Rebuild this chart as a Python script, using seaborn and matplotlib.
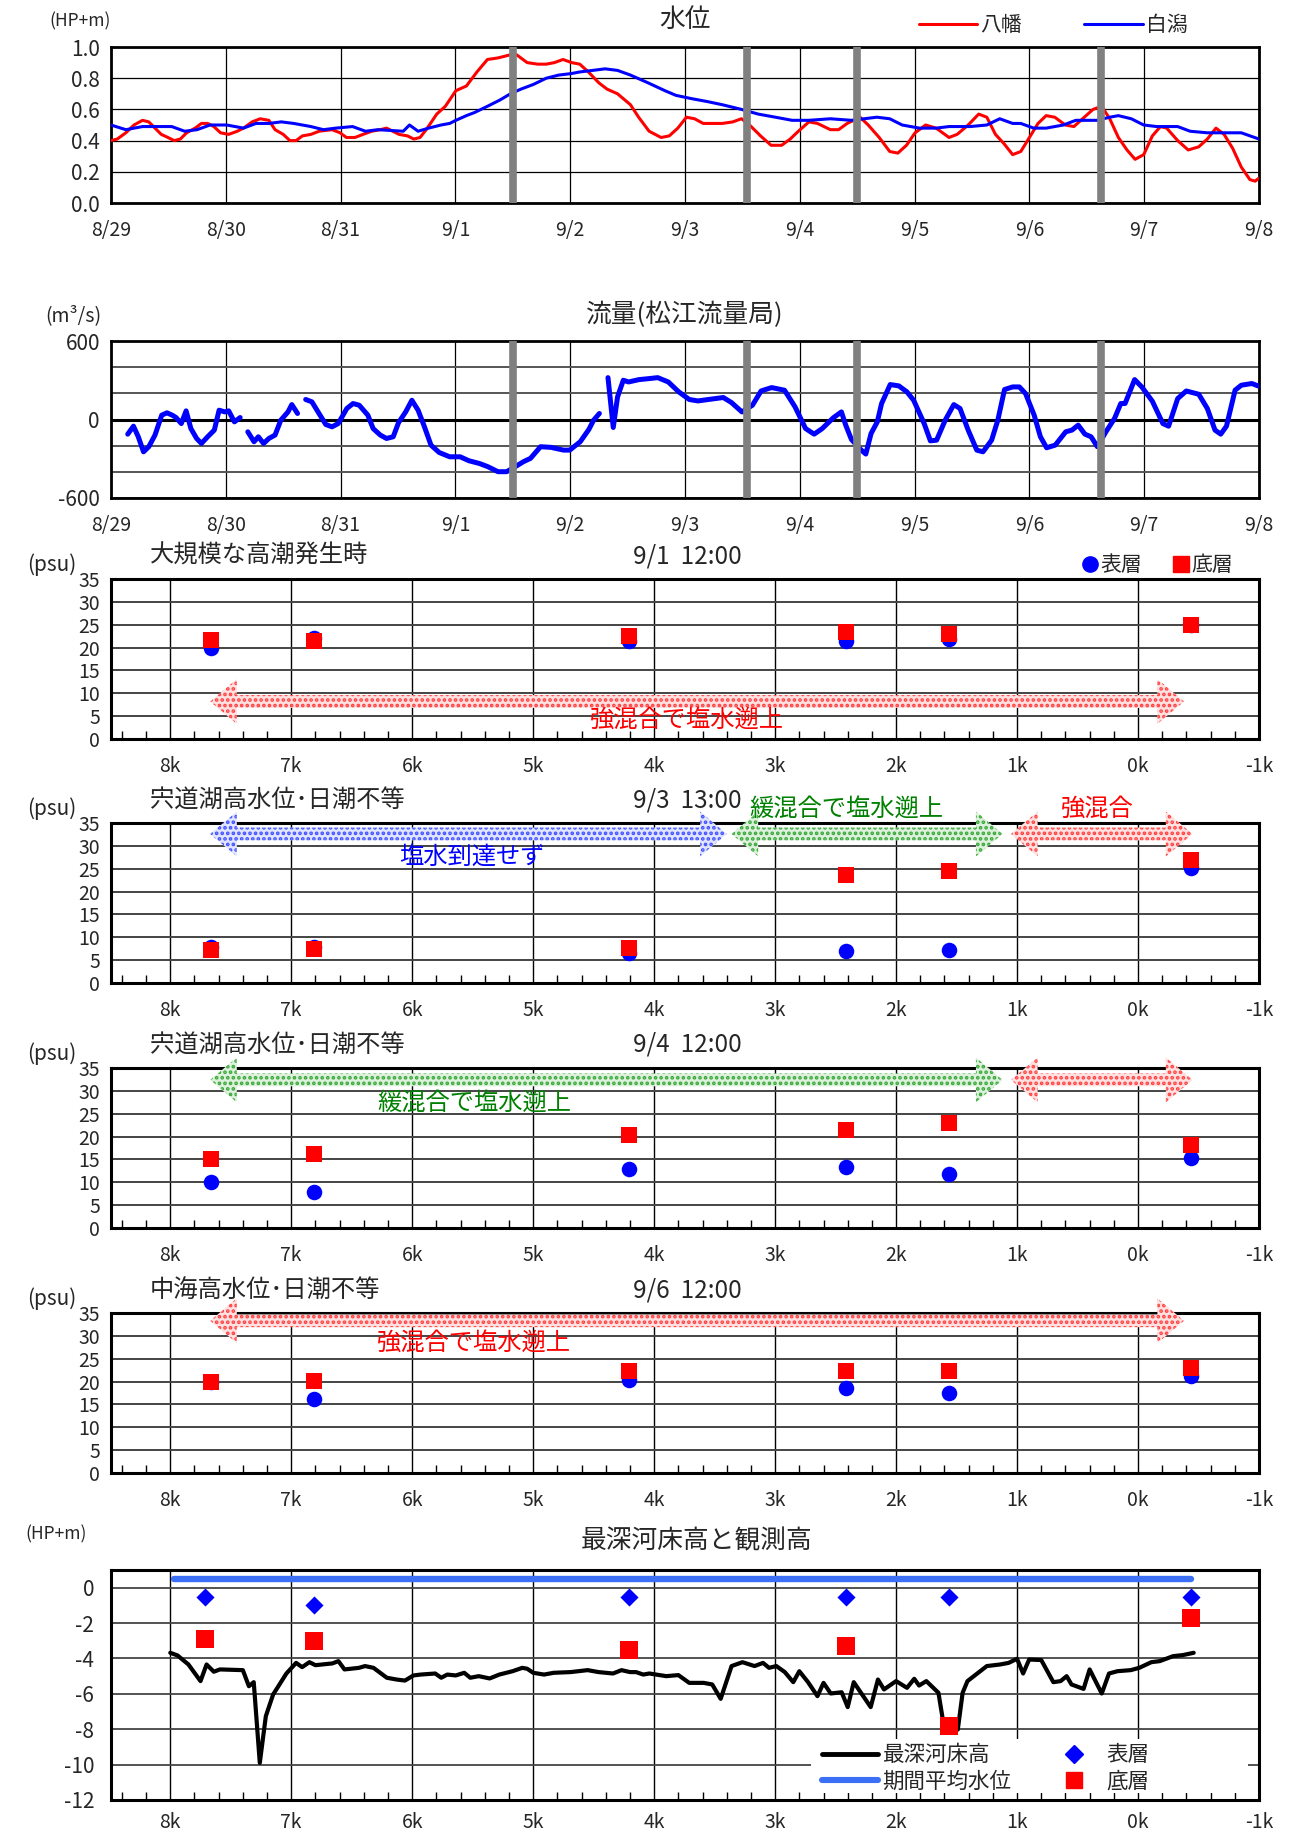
import numpy as np
import pandas as pd
import matplotlib
matplotlib.use("Agg")
import matplotlib.pyplot as plt
from matplotlib.patches import Polygon, Rectangle
from matplotlib.lines import Line2D
import seaborn as sns

sns.set_style("white")
plt.rcParams["font.family"] = ["Noto Sans CJK JP", "DejaVu Sans"]
plt.rcParams["axes.unicode_minus"] = False
plt.rcParams["hatch.linewidth"] = 1.8

# ---------------- water level (HP+m), hours from 8/29 00:00 ----------------
day_labels = ["8/29", "8/30", "8/31", "9/1", "9/2", "9/3", "9/4", "9/5", "9/6", "9/7", "9/8"]
survey_hours = [84, 133, 156, 207]

yawata_hours = [0, 1.3, 3.1, 4.8, 6.6, 7.9, 9.2, 10.5, 11.9, 13.2,
                14.5, 15.8, 17.6, 18.9, 20.2, 21.5, 22.9, 24.6, 26.4, 27.7,
                29.5, 31.2, 33.0, 34.3, 36.0, 37.4, 38.7, 40.0, 41.8, 43.5,
                46.2, 47.9, 49.2, 51.0, 52.7, 54.5, 56.3, 57.6, 58.9, 60.2,
                62.0, 63.3, 64.6, 65.9, 68.1, 69.9, 72.1, 74.3, 76.5, 78.7,
                80.9, 83.5, 84.8, 87.0, 89.2, 91.0, 92.7, 94.5, 96.3, 98.0,
                99.8, 102.0, 103.7, 105.9, 108.6, 110.3, 112.5, 115.0, 116.7, 118.5,
                120.3, 122.0, 123.8, 127.8, 130.0, 131.8, 133.5, 135.8, 138.0, 140.2,
                142.0, 143.7, 145.9, 147.7, 150.4, 152.1, 153.9, 156.6, 158.3, 160.6,
                162.8, 164.5, 166.3, 168.1, 170.3, 172.5, 175.2, 176.9, 179.2, 181.4,
                183.1, 184.9, 186.7, 188.5, 190.2, 192.0, 193.8, 195.5, 197.3, 199.5,
                201.3, 203.5, 205.3, 207.1, 208.8, 210.6, 212.4, 214.1, 215.9, 217.7,
                219.4, 220.7, 223.0, 225.2, 227.4, 229.2, 231.0, 232.7, 234.5, 236.3,
                238.1, 239.2, 240.0]
yawata_level = [0.40, 0.41, 0.45, 0.50, 0.53, 0.52, 0.48, 0.44, 0.42, 0.40,
                0.41, 0.45, 0.48, 0.51, 0.51, 0.49, 0.45, 0.44, 0.46, 0.48,
                0.52, 0.54, 0.53, 0.47, 0.44, 0.40, 0.40, 0.43, 0.44, 0.46,
                0.47, 0.45, 0.42, 0.42, 0.44, 0.46, 0.47, 0.48, 0.46, 0.44,
                0.43, 0.41, 0.42, 0.47, 0.57, 0.62, 0.72, 0.75, 0.84, 0.92,
                0.93, 0.95, 0.95, 0.90, 0.89, 0.89, 0.90, 0.92, 0.90, 0.89,
                0.84, 0.77, 0.73, 0.70, 0.63, 0.55, 0.46, 0.42, 0.43, 0.48,
                0.55, 0.54, 0.51, 0.51, 0.52, 0.54, 0.50, 0.43, 0.37, 0.37,
                0.41, 0.46, 0.52, 0.51, 0.47, 0.47, 0.51, 0.55, 0.50, 0.42,
                0.33, 0.32, 0.37, 0.45, 0.50, 0.48, 0.42, 0.44, 0.50, 0.57,
                0.55, 0.44, 0.38, 0.31, 0.33, 0.42, 0.51, 0.56, 0.55, 0.50,
                0.49, 0.55, 0.60, 0.62, 0.54, 0.42, 0.34, 0.28, 0.31, 0.43,
                0.49, 0.48, 0.40, 0.34, 0.36, 0.41, 0.48, 0.44, 0.35, 0.23,
                0.15, 0.14, 0.16]

shirakata_hours = [0, 3.1, 6.6, 12.7, 15.4, 18.0, 20.7, 24.2, 27.7, 30.3,
                   33.0, 35.6, 38.2, 41.8, 44.4, 47.0, 50.5, 53.2, 55.8, 61.1,
                   62.4, 64.2, 66.4, 69.0, 70.8, 72.1, 74.3, 76.0, 78.7, 81.3,
                   83.5, 85.7, 88.3, 91.0, 93.6, 96.3, 98.0, 100.7, 103.3, 105.9,
                   108.6, 112.3, 115.8, 118.1, 121.2, 124.7, 127.8, 131.8, 135.3, 138.9,
                   142.4, 145.9, 150.4, 154.8, 160.1, 162.8, 165.4, 169.0, 172.5, 175.2,
                   179.6, 183.1, 185.8, 188.5, 190.2, 192.9, 195.5, 199.1, 201.7, 206.2,
                   208.8, 210.6, 213.3, 215.9, 218.6, 223.0, 225.6, 229.2, 232.7, 236.3,
                   240.0]
shirakata_level = [0.50, 0.47, 0.49, 0.49, 0.46, 0.47, 0.50, 0.50, 0.48, 0.51,
                   0.51, 0.52, 0.51, 0.49, 0.47, 0.48, 0.49, 0.46, 0.47, 0.46,
                   0.50, 0.46, 0.48, 0.50, 0.51, 0.53, 0.56, 0.58, 0.62, 0.66,
                   0.70, 0.73, 0.76, 0.80, 0.82, 0.83, 0.84, 0.85, 0.86, 0.85,
                   0.82, 0.77, 0.72, 0.69, 0.67, 0.65, 0.63, 0.60, 0.57, 0.55,
                   0.53, 0.53, 0.54, 0.53, 0.55, 0.54, 0.50, 0.48, 0.48, 0.49,
                   0.49, 0.50, 0.54, 0.51, 0.51, 0.48, 0.48, 0.50, 0.53, 0.53,
                   0.55, 0.56, 0.54, 0.50, 0.49, 0.49, 0.46, 0.45, 0.45, 0.45,
                   0.41]

# ---------------- discharge at Matsue gauge (m3/s); NaN marks a recording gap ----------------
flow_hours = [3.5, 4.7, 5.7, 6.8, 7.9, 9.2, 10.6, 11.7, 12.8, 13.6,
              14.7, 15.7, 16.7, 17.9, 18.9, 20.2, 21.6, 22.6, 23.8, 24.6,
              25.8, 27.0, 27.8,
              28.6, 29.9, 30.8, 31.9, 33.0, 34.3, 35.5, 37.0, 37.8, 39.0, 39.8,
              40.7, 42.0, 43.4, 44.9, 46.2, 47.5, 49.3, 50.6, 51.9, 53.7,
              54.8, 56.3, 57.6, 59.0, 60.1, 61.6, 62.9, 64.2, 65.4, 66.9,
              68.6, 70.8, 73.0, 74.8, 77.0, 78.8, 80.9, 82.7, 84.5, 86.2,
              87.7, 89.8, 92.0, 94.6, 95.9, 98.1, 99.9, 100.9, 102.1, 103.0,
              103.9, 105.0, 105.9, 107.1, 108.2, 110.4, 112.6, 114.3,
              116.5, 118.7, 120.9, 122.7, 124.9, 128.0, 129.7, 131.9, 134.1, 135.9,
              138.1, 140.8, 143.0, 145.2, 147.0, 148.7, 151.0, 152.7, 153.6, 154.8,
              156.7, 157.8, 158.9, 160.2, 161.1, 162.9, 164.7, 166.4, 167.8, 170.0,
              171.3, 172.6, 174.4, 176.2, 177.5, 179.2, 181.0, 182.3, 184.1, 185.4,
              186.8, 188.5, 189.9, 191.2, 193.0, 194.3, 195.6, 197.4, 199.6, 200.9,
              202.2, 203.6, 204.9, 206.2, 208.0, 209.8, 211.1, 212.0, 214.0, 215.5,
              217.7, 219.9, 221.1, 223.0, 224.8, 227.4, 229.2, 230.8, 232.0, 233.2,
              235.0, 236.3, 238.5, 240.0]
flow_values = [-112, -51, -132, -247, -208, -119, 33, 51, 33, 15,
               -31, 66, -69, -145, -183, -132, -81, 71, 58, 66,
               -18, 15, np.nan,
               -94, -170, -132, -183, -145, -119, -5, 58, 114, 46, np.nan,
               153, 135, 51, -38, -56, -31, 84, 122, 109, 33,
               -69, -119, -145, -132, -25, 58, 147, 71, -43, -196,
               -252, -285, -285, -315, -336, -361, -399, -399, -361, -323,
               -297, -208, -213, -234, -234, -170, -76, -5, 46, np.nan,
               320, -61, 173, 300, 287, 305, 313, 320,
               287, 211, 153, 142, 153, 168, 130, 58, 109, 218,
               244, 224, 97, -69, -112, -69, 13, 58, -43, -153,
               -229, -264, -107, -18, 122, 267, 257, 211, 147, -31,
               -163, -158, -5, 114, 84, -81, -234, -247, -158, -5,
               229, 249, 249, 198, 33, -132, -216, -196, -94, -81,
               -43, -112, -132, -208, -94, 8, 122, 122, 305, 249,
               140, -31, -51, 160, 218, 193, 84, -81, -112, -51,
               224, 262, 275, 254]

# ---------------- salinity surveys (psu) along the channel (km) ----------------
station_km = [7.66, 6.81, 4.21, 2.41, 1.56, -0.44]
km_labels = ["8k", "7k", "6k", "5k", "4k", "3k", "2k", "1k", "0k", "-1k"]
survey_titles = ["大規模な高潮発生時", "宍道湖高水位･日潮不等", "宍道湖高水位･日潮不等", "中海高水位･日潮不等"]
survey_times = ["9/1  12:00", "9/3  13:00", "9/4  12:00", "9/6  12:00"]
surface_0901 = [19.8, 22.2, 21.4, 21.4, 21.8, 25.0]
bottom_0901 = [21.7, 21.4, 22.5, 23.3, 22.9, 24.9]
surface_0903 = [7.8, 7.8, 6.6, 7.0, 7.3, 25.1]
bottom_0903 = [7.3, 7.4, 7.7, 23.7, 24.5, 26.9]
surface_0904 = [10.0, 7.9, 12.8, 13.3, 11.8, 15.3]
bottom_0904 = [15.1, 16.1, 20.4, 21.5, 23.0, 18.1]
surface_0906 = [20.0, 16.1, 20.4, 18.7, 17.4, 21.3]
bottom_0906 = [19.9, 20.2, 22.3, 22.3, 22.3, 23.0]

# ---------------- deepest bed elevation and sampling depths (HP+m) ----------------
bed_km = [8.00, 7.94, 7.85, 7.75, 7.70, 7.64, 7.59, 7.40, 7.35, 7.31,
          7.26, 7.21, 7.15, 7.04, 6.96, 6.91, 6.85, 6.80, 6.66, 6.61,
          6.56, 6.44, 6.39, 6.32, 6.21, 6.13, 6.06, 5.99, 5.93, 5.81,
          5.76, 5.71, 5.64, 5.57, 5.52, 5.45, 5.36, 5.28, 5.17, 5.09,
          5.05, 5.00, 4.91, 4.83, 4.69, 4.55, 4.46, 4.34, 4.27, 4.20,
          4.15, 4.09, 4.04, 3.90, 3.80, 3.71, 3.59, 3.52, 3.45, 3.36,
          3.27, 3.17, 3.10, 3.05, 2.99, 2.92, 2.85, 2.80, 2.73, 2.65,
          2.60, 2.54, 2.45, 2.40, 2.35, 2.21, 2.15, 2.10, 2.00, 1.91,
          1.85, 1.81, 1.75, 1.65, 1.60, 1.55, 1.49, 1.45, 1.41, 1.25,
          1.14, 1.07, 1.00, 0.95, 0.90, 0.80, 0.70, 0.64, 0.59, 0.55,
          0.45, 0.40, 0.30, 0.24, 0.17, 0.06, -0.01, -0.11, -0.18, -0.29,
          -0.37, -0.46]
bed_elev = [-3.68, -3.83, -4.34, -5.28, -4.34, -4.75, -4.62, -4.66, -5.57, -5.34,
            -9.90, -7.26, -6.04, -4.85, -4.25, -4.49, -4.21, -4.38, -4.28, -4.15,
            -4.62, -4.53, -4.43, -4.53, -5.09, -5.19, -5.25, -4.96, -4.91, -4.85,
            -5.09, -4.91, -4.96, -4.81, -5.09, -5.00, -5.13, -4.91, -4.72, -4.53,
            -4.58, -4.81, -4.91, -4.81, -4.77, -4.66, -4.77, -4.85, -4.66, -4.77,
            -4.77, -4.91, -4.85, -5.00, -4.94, -5.38, -5.38, -5.47, -6.28, -4.43,
            -4.21, -4.43, -4.25, -4.53, -4.43, -4.77, -5.34, -4.72, -5.32, -6.13,
            -5.38, -5.98, -5.91, -6.75, -5.34, -6.75, -5.19, -5.75, -5.28, -5.66,
            -5.15, -5.53, -5.28, -5.94, -8.02, -8.02, -8.02, -5.94, -5.28, -4.43,
            -4.34, -4.25, -4.02, -4.85, -4.06, -4.09, -5.34, -5.28, -5.00, -5.47,
            -5.72, -4.62, -5.98, -4.85, -4.72, -4.66, -4.53, -4.21, -4.15, -3.87,
            -3.81, -3.68]
mean_level_km = [7.97, -0.44]
mean_level = [0.5, 0.5]
sample_km = [7.71, 6.81, 4.21, 2.41, 1.56, -0.44]
sample_surface_elev = [-0.5, -1.0, -0.5, -0.5, -0.5, -0.5]
sample_bottom_elev = [-2.9, -3.0, -3.5, -3.3, -7.8, -1.7]

# ---------------- figure layout ----------------
FIG_W, FIG_H = 1313, 1837
fig = plt.figure(figsize=(FIG_W / 100, FIG_H / 100), dpi=100)


def axes_px(left, top, right, bottom):
    return fig.add_axes([left / FIG_W, 1 - bottom / FIG_H,
                         (right - left) / FIG_W, (bottom - top) / FIG_H])


def text_px(x, y, s, **kw):
    kw.setdefault("va", "center")
    fig.text(x / FIG_W, 1 - y / FIG_H, s, **kw)


def frame(ax, lw=2.0):
    for sp in ax.spines.values():
        sp.set_visible(True)
        sp.set_color("black")
        sp.set_linewidth(lw)
    ax.set_xlabel("")
    ax.set_ylabel("")


AX_L, AX_R = 111, 1259
TICK_FS = 14
XPAD = 12
MAIN_TITLE_FS = 18.5
PANEL_TITLE_FS = 17.5
NOTE_FS = 17.5

# ----- water level -----
ax = axes_px(AX_L, 47, AX_R, 203)
lvl = pd.concat([
    pd.DataFrame({"h": yawata_hours, "v": yawata_level, "site": "八幡"}),
    pd.DataFrame({"h": shirakata_hours, "v": shirakata_level, "site": "白潟"}),
])
sns.lineplot(data=lvl, x="h", y="v", hue="site", hue_order=["八幡", "白潟"],
             palette={"八幡": "#ff0000", "白潟": "#0000ff"}, lw=2.2,
             estimator=None, sort=False, legend=False, ax=ax, zorder=3)
ax.set_xlim(0, 240)
ax.set_ylim(0, 1.0)
ax.set_xticks(np.arange(0, 241, 24))
ax.set_xticklabels(day_labels)
ax.set_yticks(np.arange(0, 1.01, 0.2))
ax.set_yticklabels([f"{v:.1f}" for v in np.arange(0, 1.01, 0.2)])
ax.grid(True, color="black", lw=0.9)
ax.tick_params(axis="x", length=0, pad=XPAD, labelsize=TICK_FS)
ax.tick_params(axis="y", length=0, pad=8, labelsize=TICK_FS + 1)
for h in survey_hours:
    ax.axvline(h, color="#808080", lw=5.5, zorder=5)
frame(ax)
ax.legend(handles=[Line2D([], [], color="#ff0000", lw=2.2), Line2D([], [], color="#0000ff", lw=2.2)],
          labels=["八幡", "白潟"], loc="center right", bbox_to_anchor=(0.945, 1.14),
          ncol=2, frameon=False, fontsize=15, handlelength=2.8, handletextpad=0.15,
          columnspacing=3.0, borderaxespad=0)
text_px(80, 21, "(HP+m)", ha="center", fontsize=12.5)
text_px(685, 20, "水位", ha="center", fontsize=MAIN_TITLE_FS)

# ----- discharge -----
ax = axes_px(AX_L, 341, AX_R, 498)
fl = pd.DataFrame({"h": flow_hours, "q": flow_values})
fl["seg"] = fl["q"].isna().cumsum()
fl = fl.dropna()
sns.lineplot(data=fl, x="h", y="q", units="seg", estimator=None, sort=False,
             color="#0000ff", lw=3.6, ax=ax, zorder=3)
ax.set_xlim(0, 240)
ax.set_ylim(-600, 600)
ax.set_xticks(np.arange(0, 241, 24))
ax.set_xticklabels(day_labels)
ax.set_yticks(np.arange(-600, 601, 200))
ax.set_yticklabels(["-600", "", "", "0", "", "", "600"])
ax.grid(True, axis="y", color="#555555", lw=1.4)
ax.grid(True, axis="x", color="black", lw=0.9)
ax.axhline(0, color="black", lw=2.2, zorder=2)
ax.tick_params(axis="x", length=0, pad=XPAD, labelsize=TICK_FS)
ax.tick_params(axis="y", length=0, pad=8, labelsize=TICK_FS + 1)
for h in survey_hours:
    ax.axvline(h, color="#808080", lw=5.5, zorder=5)
frame(ax)
text_px(73, 316, "(m³/s)", ha="center", fontsize=14)
text_px(685, 315, "流量(松江流量局)", ha="center", fontsize=MAIN_TITLE_FS)


# ----- salinity surveys -----
def band_arrow(ax, k_from, k_to, y, face, dots, head=4.9, shaft=1.4, head_len=0.22):
    pts = [(k_from, y), (k_from - head_len, y + head), (k_from - head_len, y + shaft),
           (k_to + head_len, y + shaft), (k_to + head_len, y + head), (k_to, y),
           (k_to + head_len, y - head), (k_to + head_len, y - shaft),
           (k_from - head_len, y - shaft), (k_from - head_len, y - head)]
    ax.add_patch(Polygon(pts, closed=True, facecolor=face, edgecolor=dots,
                         hatch="...", lw=0, clip_on=False, zorder=3))


RED_FACE, RED_DOT = "#ffe0e0", "#ff4040"
BLUE_FACE, BLUE_DOT = "#e0e4ff", "#4050ff"
GREEN_FACE, GREEN_DOT = "#dcf0dc", "#38a838"


def km_axis(ax):
    ax.set_xlim(8.49, -0.99)
    ax.set_xticks(np.arange(8, -1.5, -1))
    ax.set_xticklabels(km_labels)
    ax.set_xticks(np.arange(8.4, -1.0, -0.2), minor=True)
    ax.grid(True, axis="x", which="major", color="black", lw=1.0)
    ax.tick_params(axis="x", which="major", length=0, pad=XPAD, labelsize=TICK_FS)
    ax.tick_params(axis="x", which="minor", direction="in", length=6, width=1,
                   bottom=True, top=False, color="black")
    ax.tick_params(axis="y", length=0, pad=8, labelsize=14)


surveys = [(surface_0901, bottom_0901), (surface_0903, bottom_0903),
           (surface_0904, bottom_0904), (surface_0906, bottom_0906)]
sal_tops = [579, 823, 1068, 1313]
sal_axes = []
for (surf, bott), top, title, when in zip(surveys, sal_tops, survey_titles, survey_times):
    ax = axes_px(AX_L, top, AX_R, top + 160)
    sal_axes.append(ax)
    df = pd.DataFrame({"km": station_km, "surface": surf, "bottom": bott})
    sns.scatterplot(data=df, x="km", y="surface", marker="o", s=125, color="#0000ff",
                    linewidth=0, ax=ax, zorder=4, legend=False)
    sns.scatterplot(data=df, x="km", y="bottom", marker="s", s=135, color="#ff0000",
                    linewidth=0, ax=ax, zorder=5, legend=False)
    km_axis(ax)
    ax.set_ylim(0, 35)
    ax.set_yticks(np.arange(0, 36, 5))
    ax.grid(True, axis="y", color="#444444", lw=1.4)
    frame(ax, lw=2.2)
    text_px(52, top - 14, "(psu)", ha="center", fontsize=15)
    text_px(150, top - 23, title, ha="left", fontsize=PANEL_TITLE_FS)
    text_px(687, top - 23, when, ha="center", fontsize=PANEL_TITLE_FS)

ax = sal_axes[0]
band_arrow(ax, 7.67, -0.38, 8.2, RED_FACE, RED_DOT)
ax.text(3.73, 4.3, "強混合で塩水遡上", color="#ff0000", fontsize=NOTE_FS, ha="center", va="center", zorder=6)
ax.legend(handles=[Line2D([], [], ls="", marker="o", color="#0000ff", ms=11),
                   Line2D([], [], ls="", marker="s", color="#ff0000", ms=11)],
          labels=["表層", "底層"], loc="center right", bbox_to_anchor=(0.985, 1.085),
          ncol=2, frameon=False, fontsize=15, handlelength=0.8, handletextpad=0.1,
          columnspacing=1.5, borderaxespad=0)

ax = sal_axes[1]
band_arrow(ax, 7.67, 3.40, 32.6, BLUE_FACE, BLUE_DOT)
band_arrow(ax, 3.36, 1.12, 32.6, GREEN_FACE, GREEN_DOT)
band_arrow(ax, 1.05, -0.45, 32.6, RED_FACE, RED_DOT)
ax.text(5.51, 27.6, "塩水到達せず", color="#0000ff", fontsize=NOTE_FS, ha="center", va="center", zorder=6)
ax.text(2.41, 38.1, "緩混合で塩水遡上", color="#008000", fontsize=NOTE_FS, ha="center", va="center", zorder=6)
ax.text(0.34, 38.1, "強混合", color="#ff0000", fontsize=NOTE_FS, ha="center", va="center", zorder=6)

ax = sal_axes[2]
band_arrow(ax, 7.67, 1.12, 32.4, GREEN_FACE, GREEN_DOT)
band_arrow(ax, 1.05, -0.45, 32.4, RED_FACE, RED_DOT)
ax.text(5.49, 27.3, "緩混合で塩水遡上", color="#008000", fontsize=NOTE_FS, ha="center", va="center", zorder=6)

ax = sal_axes[3]
band_arrow(ax, 7.67, -0.38, 33.3, RED_FACE, RED_DOT)
ax.text(5.49, 28.4, "強混合で塩水遡上", color="#ff0000", fontsize=NOTE_FS, ha="center", va="center", zorder=6)

# ----- bed profile and sampling depths -----
ax = axes_px(AX_L, 1570, AX_R, 1800)
bed = pd.DataFrame({"km": bed_km, "z": bed_elev})
sns.lineplot(data=bed, x="km", y="z", estimator=None, sort=False, color="black", lw=3.0,
             ax=ax, zorder=3)
mean = pd.DataFrame({"km": mean_level_km, "z": mean_level})
sns.lineplot(data=mean, x="km", y="z", estimator=None, sort=False, color="#3b6ff5", lw=4.6,
             ax=ax, zorder=3, solid_capstyle="round")
samp = pd.DataFrame({"km": sample_km, "surface": sample_surface_elev, "bottom": sample_bottom_elev})
sns.scatterplot(data=samp, x="km", y="surface", marker="D", s=85, color="#0000ff",
                linewidth=0, ax=ax, zorder=4, legend=False)
sns.scatterplot(data=samp, x="km", y="bottom", marker="s", s=150, color="#ff0000",
                linewidth=0, ax=ax, zorder=5, legend=False)
km_axis(ax)
ax.set_ylim(-12, 1)
ax.set_yticks(np.arange(-12, 1, 2))
ax.set_yticklabels([str(v) for v in range(-12, 1, 2)])
ax.tick_params(axis="y", length=0, pad=12, labelsize=15)
ax.tick_params(axis="x", which="major", pad=9)
ax.grid(True, axis="y", color="#444444", lw=1.3)
frame(ax, lw=2.2)
ax.add_patch(Rectangle((0.61, 0.03), 0.38, 0.235, transform=ax.transAxes,
                       facecolor="white", edgecolor="none", zorder=1.5))
ax.legend(handles=[Line2D([], [], color="black", lw=3.5),
                   Line2D([], [], color="#3b6ff5", lw=4.4),
                   Line2D([], [], ls="", marker="D", color="#0000ff", ms=9),
                   Line2D([], [], ls="", marker="s", color="#ff0000", ms=11)],
          labels=["最深河床高", "期間平均水位", "表層", "底層"],
          loc="upper left", bbox_to_anchor=(0.612, 0.28), ncol=2, frameon=False,
          fontsize=15.5, handlelength=2.6, handletextpad=0.2, columnspacing=1.6,
          labelspacing=0.2, borderaxespad=0)
text_px(56, 1534, "(HP+m)", ha="center", fontsize=12.5)
text_px(697, 1541, "最深河床高と観測高", ha="center", fontsize=MAIN_TITLE_FS)

fig.savefig("out.png", dpi=100)
